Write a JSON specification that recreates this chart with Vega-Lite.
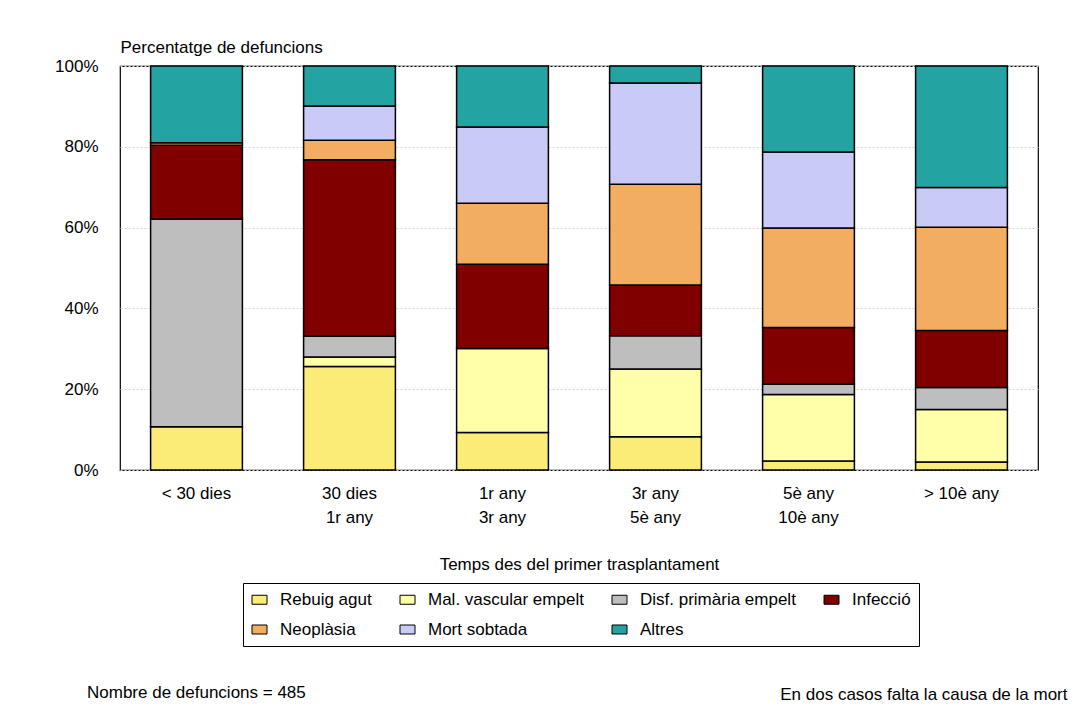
{
  "$schema": "https://vega.github.io/schema/vega-lite/v6.json",
  "width": 918,
  "height": 404,
  "autosize": {"type": "none"},
  "padding": {"left": 120, "top": 66, "right": 45, "bottom": 243},
  "background": "white",
  "config": {
    "font": "Liberation Sans",
    "view": {"stroke": "black", "strokeWidth": 1.2},
    "axis": {"labelFont": "Liberation Sans", "titleFont": "Liberation Sans", "labelColor": "black", "titleColor": "black", "titleFontWeight": "normal"},
    "legend": {"labelFont": "Liberation Sans"},
    "title": {"font": "Liberation Sans"}
  },
  "title": {
    "text": "Nombre de defuncions = 485",
    "orient": "bottom",
    "anchor": "start",
    "frame": "group",
    "offset": -4,
    "baseline": "alphabetic",
    "dx": -33,
    "fontSize": 17,
    "fontWeight": "normal",
    "color": "black"
  },
  "data": {
    "values": [
      {"period": "< 30 dies", "cause": "Rebuig agut", "ord": 1, "pct": 10.7},
      {"period": "< 30 dies", "cause": "Disf. primària empelt", "ord": 3, "pct": 51.4},
      {"period": "< 30 dies", "cause": "Infecció", "ord": 4, "pct": 18.3},
      {"period": "< 30 dies", "cause": "Neoplàsia", "ord": 5, "pct": 0.6},
      {"period": "< 30 dies", "cause": "Altres", "ord": 7, "pct": 19.0},
      {"period": "30 dies|1r any", "cause": "Rebuig agut", "ord": 1, "pct": 25.6},
      {"period": "30 dies|1r any", "cause": "Mal. vascular empelt", "ord": 2, "pct": 2.4},
      {"period": "30 dies|1r any", "cause": "Disf. primària empelt", "ord": 3, "pct": 5.1},
      {"period": "30 dies|1r any", "cause": "Infecció", "ord": 4, "pct": 43.7},
      {"period": "30 dies|1r any", "cause": "Neoplàsia", "ord": 5, "pct": 4.8},
      {"period": "30 dies|1r any", "cause": "Mort sobtada", "ord": 6, "pct": 8.5},
      {"period": "30 dies|1r any", "cause": "Altres", "ord": 7, "pct": 9.9},
      {"period": "1r any|3r any", "cause": "Rebuig agut", "ord": 1, "pct": 9.3},
      {"period": "1r any|3r any", "cause": "Mal. vascular empelt", "ord": 2, "pct": 20.8},
      {"period": "1r any|3r any", "cause": "Infecció", "ord": 4, "pct": 20.8},
      {"period": "1r any|3r any", "cause": "Neoplàsia", "ord": 5, "pct": 15.1},
      {"period": "1r any|3r any", "cause": "Mort sobtada", "ord": 6, "pct": 18.9},
      {"period": "1r any|3r any", "cause": "Altres", "ord": 7, "pct": 15.1},
      {"period": "3r any|5è any", "cause": "Rebuig agut", "ord": 1, "pct": 8.2},
      {"period": "3r any|5è any", "cause": "Mal. vascular empelt", "ord": 2, "pct": 16.8},
      {"period": "3r any|5è any", "cause": "Disf. primària empelt", "ord": 3, "pct": 8.2},
      {"period": "3r any|5è any", "cause": "Infecció", "ord": 4, "pct": 12.6},
      {"period": "3r any|5è any", "cause": "Neoplàsia", "ord": 5, "pct": 24.9},
      {"period": "3r any|5è any", "cause": "Mort sobtada", "ord": 6, "pct": 25.1},
      {"period": "3r any|5è any", "cause": "Altres", "ord": 7, "pct": 4.2},
      {"period": "5è any|10è any", "cause": "Rebuig agut", "ord": 1, "pct": 2.2},
      {"period": "5è any|10è any", "cause": "Mal. vascular empelt", "ord": 2, "pct": 16.5},
      {"period": "5è any|10è any", "cause": "Disf. primària empelt", "ord": 3, "pct": 2.5},
      {"period": "5è any|10è any", "cause": "Infecció", "ord": 4, "pct": 14.1},
      {"period": "5è any|10è any", "cause": "Neoplàsia", "ord": 5, "pct": 24.6},
      {"period": "5è any|10è any", "cause": "Mort sobtada", "ord": 6, "pct": 18.8},
      {"period": "5è any|10è any", "cause": "Altres", "ord": 7, "pct": 21.3},
      {"period": "> 10è any", "cause": "Rebuig agut", "ord": 1, "pct": 2.0},
      {"period": "> 10è any", "cause": "Mal. vascular empelt", "ord": 2, "pct": 13.0},
      {"period": "> 10è any", "cause": "Disf. primària empelt", "ord": 3, "pct": 5.4},
      {"period": "> 10è any", "cause": "Infecció", "ord": 4, "pct": 14.1},
      {"period": "> 10è any", "cause": "Neoplàsia", "ord": 5, "pct": 25.6},
      {"period": "> 10è any", "cause": "Mort sobtada", "ord": 6, "pct": 9.8},
      {"period": "> 10è any", "cause": "Altres", "ord": 7, "pct": 30.1}
    ]
  },
  "layer": [
    {
      "mark": {"type": "bar", "stroke": "black", "strokeWidth": 1.5},
      "encoding": {
        "x": {
          "field": "period",
          "type": "nominal",
          "sort": ["< 30 dies", "30 dies|1r any", "1r any|3r any", "3r any|5è any", "5è any|10è any", "> 10è any"],
          "scale": {"paddingInner": 0.4, "paddingOuter": 0.2},
          "axis": {
            "title": "Temps des del primer trasplantament",
            "titleFontSize": 17,
            "titlePadding": 31,
            "labelAngle": 0,
            "labelFontSize": 17,
            "labelPadding": 15,
            "labelLineHeight": 24,
            "labelExpr": "split(datum.label, '|')",
            "ticks": false,
            "domain": false
          }
        },
        "y": {
          "field": "pct",
          "type": "quantitative",
          "stack": "zero",
          "scale": {"domain": [0, 100], "nice": false},
          "axis": {
            "values": [0, 20, 40, 60, 80, 100],
            "labelExpr": "datum.value + '%'",
            "labelFontSize": 17,
            "labelPadding": 22,
            "ticks": false,
            "domain": false,
            "gridColor": "#d4d4d4",
            "gridDash": [2, 2],
            "title": "Percentatge de defuncions",
            "titleFontSize": 17,
            "titleAngle": 0,
            "titleAlign": "left",
            "titleBaseline": "alphabetic",
            "titleX": 0,
            "titleY": -14
          }
        },
        "color": {
          "field": "cause",
          "type": "nominal",
          "scale": {
            "domain": ["Rebuig agut", "Mal. vascular empelt", "Disf. primària empelt", "Infecció", "Neoplàsia", "Mort sobtada", "Altres"],
            "range": ["#FBEC78", "#FFFFAA", "#BEBEBE", "#800000", "#F2AD60", "#CACAF6", "#24A3A3"]
          },
          "legend": {
            "title": null,
            "orient": "none",
            "legendX": 123,
            "legendY": 517,
            "direction": "horizontal",
            "columns": 4,
            "gridAlign": "each",
            "columnPadding": 26,
            "rowPadding": 12,
            "padding": 8,
            "strokeColor": "black",
            "labelFontSize": 17,
            "labelColor": "black",
            "labelOffset": 12,
            "symbolType": "M-1,-0.6H1V0.6H-1Z",
            "symbolSize": 225,
            "symbolStrokeColor": "black",
            "symbolStrokeWidth": 1
          }
        },
        "order": {"field": "ord", "type": "quantitative", "sort": "ascending"}
      }
    },
    {
      "mark": {"type": "rule", "strokeOpacity": 0},
      "encoding": {
        "y": {
          "datum": 0,
          "type": "quantitative",
          "scale": {"domain": [0, 1]},
          "axis": {
            "orient": "right",
            "labels": false,
            "ticks": false,
            "domain": false,
            "grid": false,
            "title": "En dos casos falta la causa de la mort",
            "titleFontSize": 17,
            "titleFontWeight": "normal",
            "titleAngle": 0,
            "titleAlign": "right",
            "titleBaseline": "alphabetic",
            "titleX": 29,
            "titleY": 633
          }
        }
      }
    }
  ],
  "resolve": {"scale": {"y": "independent"}, "axis": {"y": "independent"}}
}
